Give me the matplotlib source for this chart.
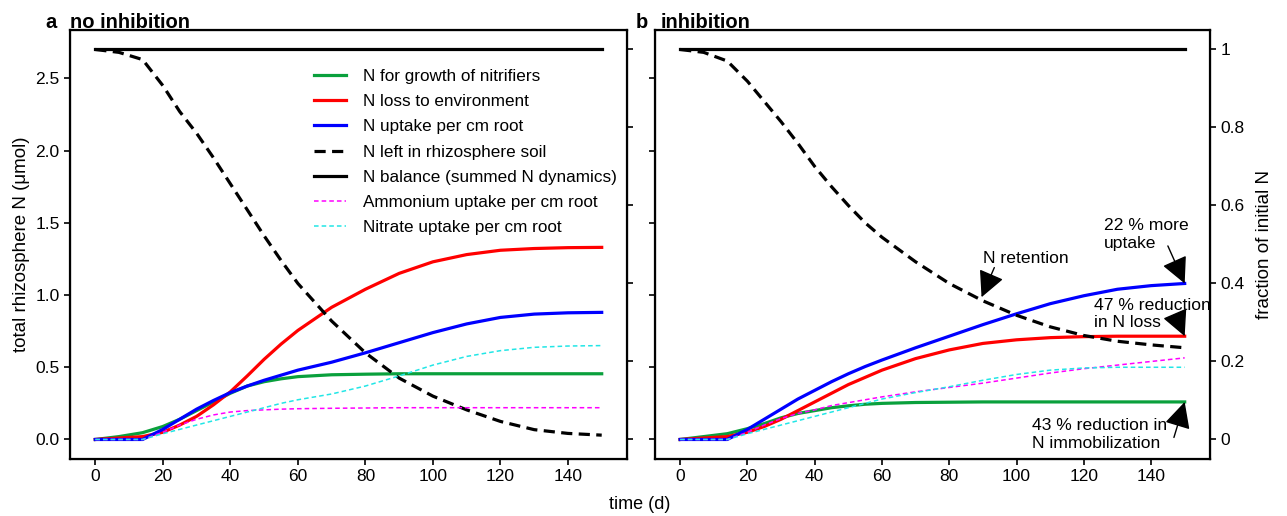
import matplotlib
matplotlib.use("Agg")
import matplotlib.pyplot as plt
import numpy as np

plt.rcParams['font.family'] = ['Liberation Sans', 'DejaVu Sans']

# time points (d)
t = [0, 7, 14, 20, 25, 30, 35, 40, 45, 50, 55, 60, 70, 80, 90, 100, 110, 120, 130, 140, 150]

# ---- a: no inhibition ----
a_soil = [2.70, 2.68, 2.63, 2.45, 2.27, 2.12, 1.95, 1.77, 1.59, 1.41, 1.24, 1.08, 0.82, 0.60, 0.425, 0.30, 0.205, 0.125, 0.068, 0.042, 0.03]
a_loss = [0, 0.01, 0.02, 0.05, 0.10, 0.16, 0.24, 0.33, 0.44, 0.555, 0.66, 0.755, 0.915, 1.04, 1.15, 1.23, 1.28, 1.31, 1.322, 1.328, 1.33]
a_uptake = [0, 0, 0, 0.07, 0.14, 0.21, 0.27, 0.325, 0.37, 0.41, 0.445, 0.48, 0.535, 0.60, 0.67, 0.74, 0.80, 0.845, 0.868, 0.877, 0.88]
a_nitrif = [0, 0.02, 0.047, 0.09, 0.14, 0.20, 0.26, 0.32, 0.37, 0.40, 0.42, 0.435, 0.448, 0.452, 0.455, 0.455, 0.455, 0.455, 0.455, 0.455, 0.455]
a_nh4 = [0, 0, 0, 0.05, 0.10, 0.14, 0.17, 0.19, 0.20, 0.205, 0.21, 0.213, 0.216, 0.218, 0.22, 0.22, 0.22, 0.22, 0.22, 0.22, 0.22]
a_no3 = [0, 0, 0, 0.04, 0.07, 0.10, 0.13, 0.16, 0.19, 0.22, 0.25, 0.275, 0.315, 0.37, 0.44, 0.515, 0.575, 0.615, 0.638, 0.647, 0.65]

# ---- b: inhibition ----
b_soil = [2.70, 2.68, 2.62, 2.48, 2.34, 2.20, 2.05, 1.89, 1.75, 1.62, 1.50, 1.40, 1.23, 1.08, 0.96, 0.86, 0.78, 0.72, 0.68, 0.655, 0.635]
b_loss = [0, 0.01, 0.02, 0.05, 0.09, 0.14, 0.20, 0.26, 0.32, 0.38, 0.43, 0.48, 0.56, 0.62, 0.665, 0.69, 0.705, 0.712, 0.715, 0.715, 0.715]
b_uptake = [0, 0, 0, 0.07, 0.14, 0.21, 0.28, 0.34, 0.40, 0.455, 0.505, 0.55, 0.635, 0.715, 0.795, 0.87, 0.94, 0.995, 1.04, 1.065, 1.08]
b_nitrif = [0, 0.02, 0.04, 0.075, 0.11, 0.15, 0.18, 0.20, 0.22, 0.233, 0.244, 0.25, 0.256, 0.258, 0.26, 0.26, 0.26, 0.26, 0.26, 0.26, 0.26]
b_nh4 = [0, 0, 0, 0.05, 0.10, 0.145, 0.18, 0.205, 0.235, 0.255, 0.275, 0.295, 0.33, 0.36, 0.39, 0.425, 0.46, 0.49, 0.515, 0.54, 0.565]
b_no3 = [0, 0, 0, 0.04, 0.07, 0.10, 0.13, 0.16, 0.19, 0.22, 0.25, 0.28, 0.325, 0.365, 0.41, 0.45, 0.48, 0.495, 0.50, 0.50, 0.50]

# N balance (summed dynamics) stays at the initial amount
bal_t = [0, 150]
bal = [2.7, 2.7]
n_init = 2.7

labels = ["N for growth of nitrifiers", "N loss to environment", "N uptake per cm root",
          "N left in rhizosphere soil", "N balance (summed N dynamics)",
          "Ammonium uptake per cm root", "Nitrate uptake per cm root"]

green = '#0aa03c'
lw = 2.3

fig = plt.figure(figsize=(12.87, 5.16), dpi=100)
ax1 = fig.add_axes([0.0544, 0.1105, 0.4328, 0.8314])
ax2 = fig.add_axes([0.5089, 0.1105, 0.4312, 0.8314])


def draw(ax, soil, loss, uptake, nitrif, nh4, no3):
    h = []
    h += ax.plot(t, nitrif, color=green, lw=lw)
    h += ax.plot(t, loss, color='#ff0000', lw=lw)
    h += ax.plot(t, uptake, color='#0000ff', lw=lw)
    h += ax.plot(t, soil, color='black', lw=lw, ls=(0, (3.5, 2.0)))
    h += ax.plot(bal_t, bal, color='black', lw=lw)
    h += ax.plot(t, nh4, color='#ff00ff', lw=1.1, ls=(0, (3, 2)))
    h += ax.plot(t, no3, color='#22e6e6', lw=1.1, ls=(0, (3, 2)))
    ax.set_xlim(-7.5, 157.5)
    ax.set_ylim(-0.135, 2.835)
    ax.set_xticks(range(0, 141, 20))
    ax.set_yticks([0, 0.5, 1.0, 1.5, 2.0, 2.5])
    ax.tick_params(labelsize=12.5, width=1.2, length=4)
    for s in ax.spines.values():
        s.set_linewidth(1.6)
    tw = ax.twinx()
    tw.set_ylim(-0.135 / n_init, 2.835 / n_init)
    tw.set_yticks([0, 0.2, 0.4, 0.6, 0.8, 1.0])
    tw.tick_params(labelsize=12.5, width=1.2, length=4)
    return h, tw


h, tw1 = draw(ax1, a_soil, a_loss, a_uptake, a_nitrif, a_nh4, a_no3)
ax1.set_yticklabels(['0.0', '0.5', '1.0', '1.5', '2.0', '2.5'])
tw1.set_yticklabels([])
ax1.set_ylabel('total rhizosphere N (μmol)', fontsize=13.5)
ax1.legend(h, labels, loc='upper left', bbox_to_anchor=(0.41, 0.945), frameon=False,
           fontsize=12.3, handlelength=1.9, labelspacing=0.6, handletextpad=1.0)

h2, tw2 = draw(ax2, b_soil, b_loss, b_uptake, b_nitrif, b_nh4, b_no3)
ax2.set_yticklabels([])
tw2.set_yticklabels(['0', '0.2', '0.4', '0.6', '0.8', '1'])
tw2.set_ylabel('fraction of initial N', fontsize=13.5, labelpad=8)

arr = dict(arrowstyle='-|>,head_length=0.9,head_width=0.45', color='black', lw=1,
           mutation_scale=18, shrinkA=0, shrinkB=0)
fs = 12.6
ax2.text(126, 1.42, '22 % more\nuptake', fontsize=fs, ha='left', va='center')
ax2.annotate('', xy=(150, 1.08), xytext=(145, 1.34), arrowprops=arr)
ax2.text(90, 1.25, 'N retention', fontsize=fs, ha='left', va='center')
ax2.annotate('', xy=(89.6, 0.985), xytext=(93.4, 1.19), arrowprops=arr)
ax2.text(123, 0.87, '47 % reduction\nin N loss', fontsize=fs, ha='left', va='center')
ax2.annotate('', xy=(150, 0.715), xytext=(147.5, 0.85), arrowprops=arr)
ax2.text(104.5, 0.035, '43 % reduction in\nN immobilization', fontsize=fs, ha='left', va='center')
ax2.annotate('', xy=(150, 0.26), xytext=(146.8, 0.014), arrowprops=arr)

fig.text(0.035, 0.957, 'a', fontsize=14.5, fontweight='bold', va='center')
fig.text(0.0544, 0.957, 'no inhibition', fontsize=14.5, fontweight='bold', va='center')
fig.text(0.494, 0.957, 'b', fontsize=14.5, fontweight='bold', va='center')
fig.text(0.5135, 0.957, 'inhibition', fontsize=14.5, fontweight='bold', va='center')
fig.text(0.497, 0.022, 'time (d)', fontsize=13, ha='center', va='center')

fig.savefig('out.png', dpi=100)
